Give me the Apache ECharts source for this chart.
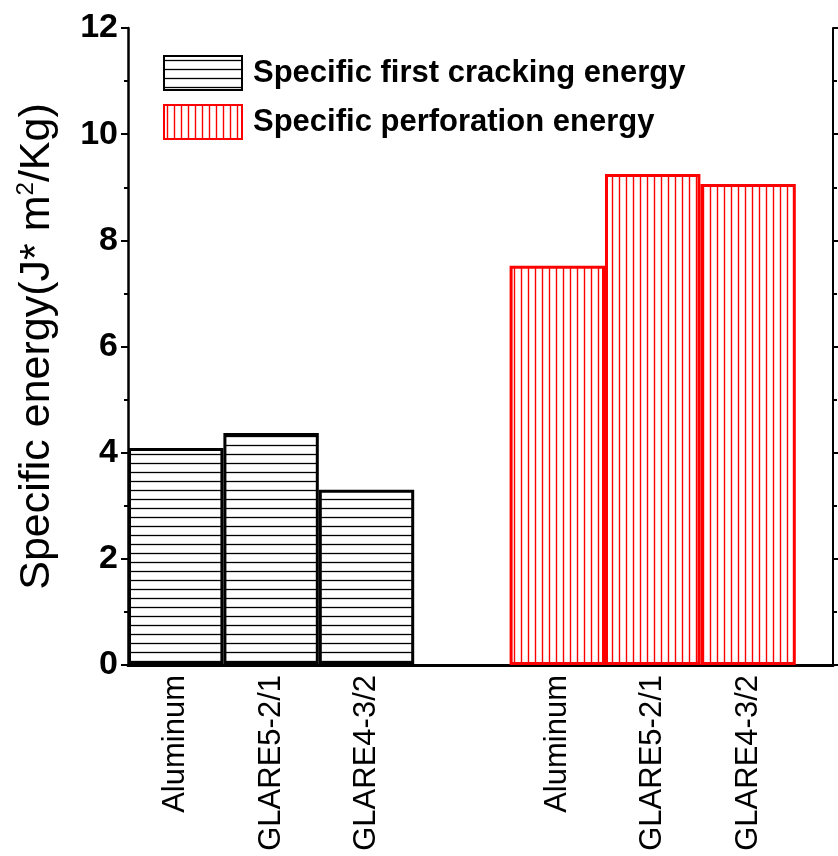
<!DOCTYPE html>
<html>
<head>
<meta charset="utf-8">
<script src="https://cdn.jsdelivr.net/npm/echarts@6/dist/echarts.min.js"></script>
<style>
  html, body { margin: 0; padding: 0; background: #ffffff; }
  #chart { width: 838px; height: 856px; }
</style>
</head>
<body>
<div id="chart"></div>
<script>
// Specimen names (repeated for both energy groups)
const materials = ['Aluminum', 'GLARE5-2/1', 'GLARE4-3/2'];
// Specific energies, J*m^2/Kg
const firstCrackingEnergy = [4.09, 4.37, 3.30];
const perforationEnergy = [7.52, 9.25, 9.06];
// Y axis ticks
const yTicks = [0, 2, 4, 6, 8, 10, 12];
const seriesNames = ['Specific first cracking energy', 'Specific perforation energy'];

// Slot index of each bar: first group in slots 1-3, second group after one empty slot
const firstSlots = materials.map((m, i) => i + 1);
const perfSlots = materials.map((m, i) => i + 1 + materials.length + 1);

// Hatch fill: parallel lines on a white background
function hatch(direction, color, step, width) {
  const c = document.createElement('canvas');
  if (direction === 'h') { c.width = 8; c.height = step; }
  else { c.width = step; c.height = 8; }
  const ctx = c.getContext('2d');
  ctx.fillStyle = '#ffffff';
  ctx.fillRect(0, 0, c.width, c.height);
  ctx.strokeStyle = color;
  ctx.lineWidth = width;
  ctx.beginPath();
  if (direction === 'h') { ctx.moveTo(0, step / 2); ctx.lineTo(c.width, step / 2); }
  else { ctx.moveTo(step / 2, 0); ctx.lineTo(step / 2, c.height); }
  ctx.stroke();
  return { image: c, repeat: 'repeat' };
}

const blackHatch = hatch('h', '#000000', 9, 1.3);
const redHatch = hatch('v', '#ff0000', 7, 1.4);

const chart = echarts.init(document.getElementById('chart'), null, { renderer: 'canvas' });

const xMin = 0.5, xMax = 7.89;
const tickLabel = v => {
  const a = firstSlots.indexOf(v);
  if (a >= 0) return materials[a];
  const b = perfSlots.indexOf(v);
  return b >= 0 ? materials[b] : '';
};

chart.setOption({
  animation: false,
  backgroundColor: '#ffffff',
  textStyle: { fontFamily: 'Liberation Sans, Arial, sans-serif' },
  grid: { left: 128, right: 5, top: 28, bottom: 191, containLabel: false },
  legend: {
    orient: 'vertical',
    left: 163,
    top: 55,
    padding: 0,
    itemWidth: 78,
    itemHeight: 34,
    itemGap: 13,
    icon: 'rect',
    selectedMode: false,
    data: seriesNames,
    textStyle: {
      fontSize: 31,
      fontWeight: 'bold',
      color: '#000000',
      padding: [0, 0, 0, 6],
      lineHeight: 34
    }
  },
  xAxis: [
    {
      type: 'value',
      position: 'bottom',
      min: xMin,
      max: xMax,
      axisLine: { show: true, lineStyle: { color: '#000000', width: 2.5 } },
      axisTick: { show: false },
      splitLine: { show: false },
      axisLabel: {
        customValues: firstSlots.concat(perfSlots),
        rotate: 90,
        margin: 10,
        fontSize: 31,
        color: '#000000',
        formatter: tickLabel
      }
    },
    {
      type: 'value',
      position: 'top',
      min: xMin,
      max: xMax,
      axisLine: { show: true, lineStyle: { color: '#000000', width: 3 } },
      axisTick: { show: false },
      axisLabel: { show: false },
      splitLine: { show: false }
    }
  ],
  yAxis: [
    {
      type: 'value',
      position: 'left',
      min: yTicks[0],
      max: yTicks[yTicks.length - 1],
      interval: yTicks[1] - yTicks[0],
      axisLine: { show: true, lineStyle: { color: '#000000', width: 2.5 } },
      axisTick: { show: true, length: 7, lineStyle: { color: '#000000', width: 2 } },
      minorTick: { show: true, splitNumber: 2, length: 4, lineStyle: { color: '#000000', width: 2 } },
      splitLine: { show: false },
      axisLabel: { fontSize: 34, fontWeight: 'bold', color: '#000000', margin: 10 },
      name: '{a|Specific energy(J* m}{s|2}{a|/Kg)}',
      nameLocation: 'middle',
      nameGap: 68,
      nameRotate: 90,
      nameTextStyle: {
        rich: {
          a: { fontSize: 43, color: '#000000', lineHeight: 46 },
          s: { fontSize: 24, color: '#000000', lineHeight: 46, verticalAlign: 'top' }
        }
      }
    },
    {
      type: 'value',
      position: 'right',
      min: yTicks[0],
      max: yTicks[yTicks.length - 1],
      interval: yTicks[1] - yTicks[0],
      axisLine: { show: true, lineStyle: { color: '#000000', width: 2 } },
      axisTick: { show: true, length: 7, lineStyle: { color: '#000000', width: 2 } },
      minorTick: { show: true, splitNumber: 2, length: 4, lineStyle: { color: '#000000', width: 2 } },
      splitLine: { show: false },
      axisLabel: { show: false }
    }
  ],
  series: [
    {
      name: seriesNames[0],
      type: 'bar',
      xAxisIndex: 0,
      yAxisIndex: 0,
      barWidth: 95.4,
      barGap: '-100%',
      data: firstSlots.map((x, i) => [x, firstCrackingEnergy[i]]),
      itemStyle: { color: blackHatch, borderColor: '#000000', borderWidth: 3 }
    },
    {
      name: seriesNames[1],
      type: 'bar',
      xAxisIndex: 0,
      yAxisIndex: 0,
      barWidth: 95.4,
      barGap: '-100%',
      data: perfSlots.map((x, i) => [x, perforationEnergy[i]]),
      itemStyle: { color: redHatch, borderColor: '#ff0000', borderWidth: 3 }
    }
  ]
});
</script>
</body>
</html>
